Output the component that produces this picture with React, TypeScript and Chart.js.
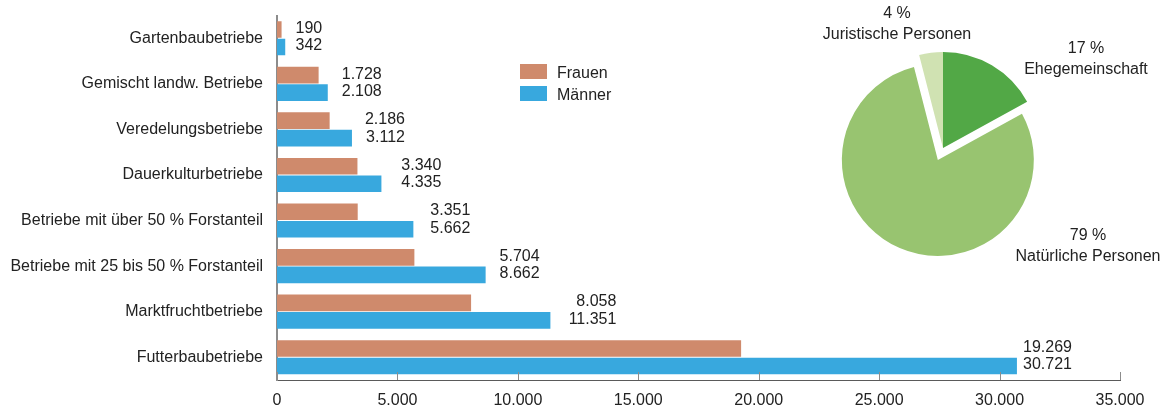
import React, { useEffect, useRef } from "react";
import { Chart, registerables } from "chart.js";

Chart.register(...registerables);

// ---- data ----
const categories = [
  "Gartenbaubetriebe",
  "Gemischt landw. Betriebe",
  "Veredelungsbetriebe",
  "Dauerkulturbetriebe",
  "Betriebe mit über 50 % Forstanteil",
  "Betriebe mit 25 bis 50 % Forstanteil",
  "Marktfruchtbetriebe",
  "Futterbaubetriebe",
];
const frauen = [190, 1728, 2186, 3340, 3351, 5704, 8058, 19269];
const maenner = [342, 2108, 3112, 4335, 5662, 8662, 11351, 30721];
const seriesNames = ["Frauen", "Männer"];
const xMin = 0;
const xMax = 35000;
const xStep = 5000;

const pieNames = ["Ehegemeinschaft", "Natürliche Personen", "Juristische Personen"];
const piePercent = [17, 79, 4];

// ---- styles ----
const FONT = "'Liberation Sans', Arial, sans-serif";
const TEXT = "#222222";
const COL_F = "#CF8A6C";
const COL_M = "#38A8DE";
const PIE_COLORS = ["#52A846", "#98C470", "#D0E2B2"];
// explosion distance of each slice, px
const PIE_EXPLODE = [0, 13, 0];
// right edge of value labels, px beyond the longer bar
const labelGap = [37, 54, 53, 60, 57, 54, 66, 55];
// pie label anchor relative to pie center (first line), px
const pieLabelPos = [
  [143, -99],
  [145, 88],
  [-46, -134],
];

function fmt(v: number): string {
  return String(v).replace(/\B(?=(\d{3})+(?!\d))/g, ".");
}

const barExtras = {
  id: "barExtras",
  afterDatasetsDraw(chart: any) {
    const ctx = chart.ctx;
    const m0 = chart.getDatasetMeta(0);
    const m1 = chart.getDatasetMeta(1);
    ctx.save();
    ctx.font = `16px ${FONT}`;
    ctx.fillStyle = TEXT;
    ctx.textAlign = "right";
    ctx.textBaseline = "middle";
    categories.forEach((_, i) => {
      const b0 = m0.data[i];
      const b1 = m1.data[i];
      const right = Math.max(b0.x, b1.x) + labelGap[i];
      ctx.fillText(fmt(frauen[i]), right, b0.y - 1);
      ctx.fillText(fmt(maenner[i]), right, b1.y - 1);
    });
    // inward tick marks on the x axis
    const xs = chart.scales.x;
    const bottom = chart.chartArea.bottom;
    ctx.strokeStyle = "#8c8c8c";
    ctx.lineWidth = 1;
    xs.ticks.forEach((t: any) => {
      const px = Math.round(xs.getPixelForValue(t.value)) + 0.5;
      ctx.beginPath();
      ctx.moveTo(px, bottom - 8);
      ctx.lineTo(px, bottom);
      ctx.stroke();
    });
    ctx.restore();
  },
};

// draws each arc element translated along its mid angle (pure explosion, same radius)
const pieExplode = {
  id: "pieExplode",
  beforeDatasetDraw(chart: any, args: any) {
    const ctx = chart.ctx;
    args.meta.data.forEach((arc: any, i: number) => {
      const mid = (arc.startAngle + arc.endAngle) / 2;
      const d = PIE_EXPLODE[i] || 0;
      ctx.save();
      ctx.translate(Math.cos(mid) * d, Math.sin(mid) * d);
      arc.draw(ctx, chart.chartArea);
      ctx.restore();
    });
    return false;
  },
};

const pieLabelsPlugin = {
  id: "pieLabels",
  afterDraw(chart: any) {
    const ctx = chart.ctx;
    const ca = chart.chartArea;
    const cx = (ca.left + ca.right) / 2;
    const cy = (ca.top + ca.bottom) / 2;
    ctx.save();
    ctx.font = `16px ${FONT}`;
    ctx.fillStyle = TEXT;
    ctx.textAlign = "center";
    ctx.textBaseline = "middle";
    pieNames.forEach((name, i) => {
      const [dx, dy] = pieLabelPos[i];
      ctx.fillText(`${piePercent[i]} %`, cx + dx, cy + dy);
      ctx.fillText(name, cx + dx, cy + dy + 20.5);
    });
    ctx.restore();
  },
};

export default function App() {
  const barRef = useRef<HTMLCanvasElement | null>(null);
  const pieRef = useRef<HTMLCanvasElement | null>(null);

  useEffect(() => {
    const bar = new Chart(barRef.current as HTMLCanvasElement, {
      type: "bar",
      data: {
        labels: categories,
        datasets: [
          {
            label: seriesNames[0],
            data: frauen,
            backgroundColor: COL_F,
            borderWidth: 0,
            categoryPercentage: 0.768,
            barPercentage: 0.95,
          },
          {
            label: seriesNames[1],
            data: maenner,
            backgroundColor: COL_M,
            borderWidth: 0,
            categoryPercentage: 0.768,
            barPercentage: 0.95,
          },
        ],
      },
      options: {
        indexAxis: "y",
        responsive: false,
        animation: false,
        layout: { padding: { top: 15.5, right: 40, left: 0, bottom: 0 } },
        plugins: {
          legend: { display: false },
          tooltip: { enabled: false },
        },
        scales: {
          x: {
            type: "linear",
            min: xMin,
            max: xMax,
            grid: { display: false, drawTicks: false },
            border: { display: true, color: "#5a5a5a", width: 1 },
            ticks: {
              stepSize: xStep,
              padding: 11,
              color: TEXT,
              font: { family: FONT, size: 16 },
              callback: (v: any) => fmt(Number(v)),
            },
            afterFit: (s: any) => {
              s.height = 26;
            },
          },
          y: {
            z: 1,
            grid: { display: false, drawTicks: false },
            border: { display: true, color: "#8c8c8c", width: 2 },
            ticks: {
              padding: 14,
              color: TEXT,
              font: { family: FONT, size: 16 },
            },
            afterFit: (s: any) => {
              s.width = 277;
              s.paddingTop = 0;
              s.paddingBottom = 0;
            },
          },
        },
      } as any,
      plugins: [barExtras],
    });

    const pie = new Chart(pieRef.current as HTMLCanvasElement, {
      type: "pie",
      data: {
        labels: pieNames,
        datasets: [
          {
            data: piePercent,
            backgroundColor: PIE_COLORS,
            borderWidth: 0,
            radius: 96,
          } as any,
        ],
      },
      options: {
        responsive: false,
        animation: false,
        layout: { padding: 0 },
        plugins: {
          legend: { display: false },
          tooltip: { enabled: false },
        },
      } as any,
      plugins: [pieExplode, pieLabelsPlugin],
    });

    return () => {
      bar.destroy();
      pie.destroy();
    };
  }, []);

  const legendText: React.CSSProperties = {
    position: "absolute",
    left: 557,
    font: `16px ${FONT}`,
    color: TEXT,
    lineHeight: "18px",
    whiteSpace: "nowrap",
  };

  return (
    <div style={{ position: "absolute", left: 0, top: 0, width: 1160, height: 406, background: "#fff" }}>
      <canvas ref={barRef} width={1160} height={406} style={{ position: "absolute", left: 0, top: 0 }} />
      <canvas ref={pieRef} width={434} height={296} style={{ position: "absolute", left: 726, top: 0 }} />
      <div style={{ position: "absolute", left: 520, top: 64, width: 27, height: 15, background: COL_F }} />
      <div style={{ ...legendText, top: 64 }}>{seriesNames[0]}</div>
      <div style={{ position: "absolute", left: 520, top: 86, width: 27, height: 15, background: COL_M }} />
      <div style={{ ...legendText, top: 86 }}>{seriesNames[1]}</div>
    </div>
  );
}
